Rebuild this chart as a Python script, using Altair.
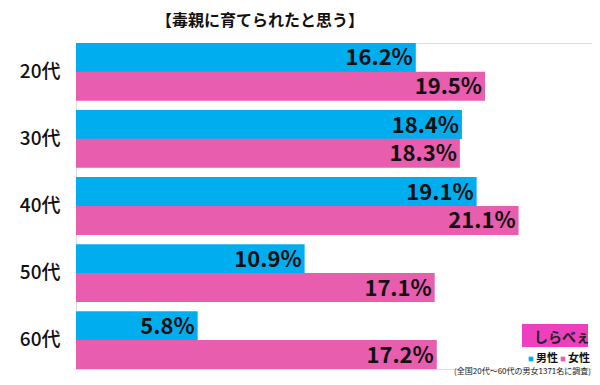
import altair as alt
import pandas as pd

ages = ["20代", "30代", "40代", "50代", "60代"]
male = [16.2, 18.4, 19.1, 10.9, 5.8]
female = [19.5, 18.3, 21.1, 17.1, 17.2]
genders = ["男性", "女性"]
colors = ["#00AEEF", "#E85DAE"]
title_text = "【毒親に育てられたと思う】"
note_text = "(全国20代～60代の男女1371名に調査)"
logo_text = "しらべぇ"

rows = []
for a, m, f in zip(ages, male, female):
    rows.append({"age": a, "gender": genders[0], "value": m, "label": f"{m:.1f}%"})
    rows.append({"age": a, "gender": genders[1], "value": f, "label": f"{f:.1f}%"})
df = pd.DataFrame(rows)

FONT = "Noto Sans CJK JP"

base = alt.Chart(df).encode(
    y=alt.Y("age:N", sort=ages, title=None,
            scale=alt.Scale(paddingInner=0.14, paddingOuter=0),
            axis=alt.Axis(domain=False, ticks=False, labelFont=FONT, labelFontSize=19,
                          labelColor="#111111", labelPadding=16, labelFontWeight=500)),
    yOffset=alt.YOffset("gender:N", sort=genders, scale=alt.Scale(paddingInner=0, paddingOuter=0)),
)

bars = base.mark_bar(size=29).encode(
    x=alt.X("value:Q", scale=alt.Scale(domain=[0, 24.6], nice=False), axis=None, title=None),
    color=alt.Color("gender:N", sort=genders,
                    scale=alt.Scale(domain=genders, range=colors), legend=None),
)

labels = base.mark_text(align="right", baseline="middle", dx=-3, dy=1, font=FONT,
                        fontSize=22, fontWeight="bold", color="#111111").encode(
    x=alt.X("value:Q"),
    text="label:N",
)

# custom legend (bottom right)
leg = pd.DataFrame({"g": genders, "sx": [455, 487], "tx": [460, 492]})
leg_sym = alt.Chart(leg).mark_square(size=22, opacity=1).encode(
    x=alt.X("sx:Q", scale=None), y=alt.value(316),
    color=alt.Color("g:N", sort=genders, scale=alt.Scale(domain=genders, range=colors), legend=None))
leg_txt = alt.Chart(leg).mark_text(font=FONT, fontSize=11, fontWeight="bold", color="#111111",
                                   align="left", baseline="middle").encode(
    x=alt.X("tx:Q", scale=None), y=alt.value(316), text="g:N")

one = pd.DataFrame({"t": [title_text], "n": [note_text], "l": [logo_text]})

title = alt.Chart(one).mark_text(font=FONT, fontSize=16, fontWeight="bold", color="#111111",
                                 align="center", baseline="middle").encode(
    x=alt.value(184), y=alt.value(-22), text="t:N")

note = alt.Chart(one).mark_text(font=FONT, fontSize=8, color="#222222",
                                align="right", baseline="bottom").encode(
    x=alt.value(515), y=alt.value(333), text="n:N")

logo_box = alt.Chart(one).mark_rect(color="#EE3FBF").encode(
    x=alt.value(446), x2=alt.value(512), y=alt.value(281), y2=alt.value(304))

logo = alt.Chart(one).mark_text(font=FONT, fontSize=14, fontWeight="bold", color="#222222",
                                align="center", baseline="middle").encode(
    x=alt.value(486), y=alt.value(295), text="l:N")

chart = alt.layer(bars, labels, leg_sym, leg_txt, title, note, logo_box, logo).properties(
    width=516, height=326,
    autosize=alt.AutoSizeParams(type="none"),
    padding={"left": 68, "top": 35, "right": 0, "bottom": 8},
).configure_view(stroke=None).configure(background="white")

chart.save("out.html", embed_options={"renderer": "svg", "actions": False})
